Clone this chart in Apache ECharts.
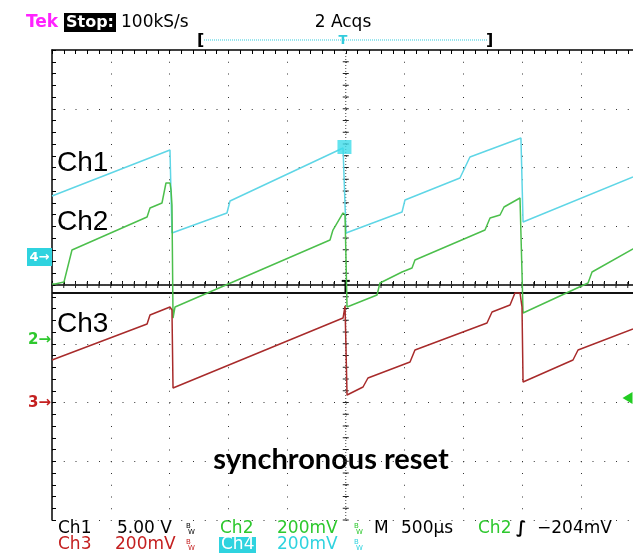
<!DOCTYPE html>
<html><head><meta charset="utf-8">
<script src="https://cdn.jsdelivr.net/npm/echarts@6/dist/echarts.min.js"></script>
<style>html,body{margin:0;padding:0;background:#fff}#c{width:633px;height:553px}</style>
</head><body><div id="c"></div>
<script>
// Horizontal: time in microseconds (500 µs/div, 10 divisions). Vertical: screen divisions (8 divisions).
const timeMin = 0, timeMax = 5000, timeStep = 500;
const divMin = -4, divMax = 4, divStep = 1;

// Ch1 (cyan)
const ch1Time = [0, 1004, 1017, 1021, 1489, 1515, 2477, 2489, 2502, 2979, 3004, 3472, 3557, 3991, 4000, 4009, 4945, 5000];
const ch1Div  = [1.515, 2.298, 2.30, 0.885, 1.226, 1.430, 2.332, 2.349, 0.885, 1.243, 1.447, 1.821, 2.179, 2.502, 2.502, 1.072, 1.838, 1.884];
// Ch2 (green)
const ch2Time = [0, 26, 102, 170, 809, 834, 936, 970, 1004, 1013, 1021, 1030, 1047, 2366, 2391, 2477, 2494, 2511, 2766, 2791, 2979, 3064, 3089, 3685, 3728, 3813, 3847, 3983, 3991, 4009, 4562, 4596, 4945, 5000];
const ch2Div  = [0.017, 0.017, 0.051, 0.596, 1.157, 1.311, 1.396, 1.736, 1.736, 1.617, 1.362, -0.562, -0.374, 0.766, 0.936, 1.226, 1.191, -0.374, -0.170, 0.034, 0.221, 0.289, 0.426, 0.936, 1.140, 1.191, 1.328, 1.481, 1.481, -0.477, 0.034, 0.221, 0.613, 0.674];
// Ch3 (red)
const ch3Time = [0, 809, 834, 1004, 1021, 1030, 2477, 2494, 2511, 2647, 2689, 3047, 3089, 3702, 3745, 3898, 3940, 3983, 4000, 4009, 4434, 4477, 4945, 5000];
const ch3Div  = [-1.277, -0.664, -0.511, -0.374, -0.426, -1.753, -0.562, -0.357, -1.872, -1.736, -1.583, -1.311, -1.106, -0.647, -0.460, -0.340, -0.136, -0.136, -0.374, -1.651, -1.277, -1.106, -0.749, -0.706];
// flat black reference trace
const refTime = [0, 5000];
const refDiv  = [-0.136, -0.136];

// channel ground markers on the left edge
const markerNames  = ['4', '2', '3'];
const markerLevels = [0.477, -0.919, -1.991];
// trigger
const triggerTime = 2500;
const triggerLevel = -1.923;
const triggerMarkTop = 0.07;
const boxMarker = [2489, 2.349];

const zip = (t, v) => t.map((x, i) => [x, v[i]]);
const markerColors = {'4': '#2fd3df', '2': '#2ec82e', '3': '#c42020'};
const FONT = '"DejaVu Sans", sans-serif';

const chart = echarts.init(document.getElementById('c'));

function graticule(params, api) {
  const ch = [];
  const minorT = timeStep / 5, minorD = divStep / 5;
  const a = api.coord([timeMin, 0]), b = api.coord([timeMax, 0]);
  ch.push({type: 'line', shape: {x1: a[0], y1: a[1], x2: b[0], y2: b[1]}, style: {stroke: '#444', lineWidth: 1, lineDash: [1, 2]}});
  const nT = Math.round((timeMax - timeMin) / minorT);
  for (let i = 0; i <= nT; i++) {
    const p = api.coord([timeMin + i * minorT, 0]);
    ch.push({type: 'line', shape: {x1: p[0], y1: p[1] - 3, x2: p[0], y2: p[1] + 3}, style: {stroke: '#222', lineWidth: 1}});
  }
  const c = api.coord([triggerTime, divMax]), d = api.coord([triggerTime, divMin]);
  ch.push({type: 'line', shape: {x1: c[0], y1: c[1], x2: d[0], y2: d[1]}, style: {stroke: '#444', lineWidth: 1, lineDash: [1, 2]}});
  const nD = Math.round((divMax - divMin) / minorD);
  for (let i = 0; i <= nD; i++) {
    const p = api.coord([triggerTime, divMin + i * minorD]);
    ch.push({type: 'line', shape: {x1: p[0] - 3, y1: p[1], x2: p[0] + 3, y2: p[1]}, style: {stroke: '#222', lineWidth: 1}});
  }
  // trigger position marker "T"
  const tt = api.coord([triggerTime, triggerMarkTop]), tb = api.coord([triggerTime, refDiv[0]]);
  ch.push({type: 'line', shape: {x1: tt[0] - 4, y1: tt[1], x2: tt[0] + 4, y2: tt[1]}, style: {stroke: '#000', lineWidth: 2}});
  ch.push({type: 'line', shape: {x1: tt[0], y1: tt[1], x2: tb[0], y2: tb[1]}, style: {stroke: '#000', lineWidth: 2.5}});
  return {type: 'group', children: ch};
}

function markers(params, api) {
  const ch = [];
  markerNames.forEach((n, i) => {
    const p = api.coord([timeMin, markerLevels[i]]);
    if (n === '4') {
      ch.push({type: 'rect', shape: {x: p[0] - 25, y: p[1] - 9, width: 25, height: 18}, style: {fill: markerColors[n]}});
      ch.push({type: 'text', style: {x: p[0] - 12.5, y: p[1] + 1, text: n + '→', fill: '#fff', font: 'bold 13px ' + FONT, align: 'center', verticalAlign: 'middle'}});
    } else {
      ch.push({type: 'text', style: {x: p[0] - 1, y: p[1] + 1, text: n + '→', fill: markerColors[n], font: 'bold 15px ' + FONT, align: 'right', verticalAlign: 'middle'}});
    }
  });
  const q = api.coord([timeMax, triggerLevel]);
  ch.push({type: 'polygon', shape: {points: [[q[0] - 17, q[1]], [q[0] - 7, q[1] - 6], [q[0] - 7, q[1] + 6]]}, style: {fill: '#22cc22'}});
  return {type: 'group', children: ch};
}

const axisCommon = {
  type: 'value', min: timeMin, max: timeMax, interval: timeStep,
  axisLine: {show: true, lineStyle: {color: '#000', width: 1.5}},
  axisTick: {show: true, inside: true, length: 4, lineStyle: {color: '#000'}},
  minorTick: {show: true, splitNumber: 5, length: 4, lineStyle: {color: '#000'}},
  axisLabel: {show: false}
};

const txt = (x, y, text, fill, size, extra) => Object.assign({type: 'text', x: x, y: y, style: {text: text, fill: fill, font: (size || '17px') + ' ' + FONT, verticalAlign: 'middle'}}, extra || {});
const r1 = 529, r2 = 545;

chart.setOption({
  animation: false,
  backgroundColor: '#fff',
  grid: {left: 52, top: 50, width: 587.5, height: 470, outerBoundsMode: 'none', containLabel: false},
  xAxis: [
    Object.assign({}, axisCommon, {position: 'bottom', splitLine: {show: true, lineStyle: {color: '#333', width: 1, type: [1, 10.75]}}}),
    Object.assign({}, axisCommon, {position: 'top', splitLine: {show: false}})
  ],
  yAxis: {
    type: 'value', min: divMin, max: divMax, interval: divStep,
    axisLine: {show: true, lineStyle: {color: '#000', width: 1.5}},
    axisTick: {show: true, inside: true, length: 4, lineStyle: {color: '#000'}},
    minorTick: {show: true, splitNumber: 5, length: 4, lineStyle: {color: '#000'}},
    axisLabel: {show: false},
    splitLine: {show: true, lineStyle: {color: '#333', width: 1, type: [1, 10.75]}}
  },
  series: [
    {type: 'custom', renderItem: graticule, data: [[0]], silent: true, z: 1},
    {type: 'line', data: zip(refTime, refDiv), showSymbol: false, lineStyle: {color: '#111', width: 2}, z: 2},
    {type: 'line', data: zip(ch1Time, ch1Div), showSymbol: false, lineStyle: {color: '#5fd6e6', width: 1.5}, z: 3},
    {type: 'line', data: zip(ch2Time, ch2Div), showSymbol: false, lineStyle: {color: '#4cbf4c', width: 1.5}, z: 4},
    {type: 'line', data: zip(ch3Time, ch3Div), showSymbol: false, lineStyle: {color: '#a82b2b', width: 1.5}, z: 5},
    {type: 'scatter', data: [boxMarker], symbol: 'rect', symbolSize: 14, itemStyle: {color: '#3ddcea'}, z: 6},
    {type: 'custom', renderItem: markers, data: [[0]], silent: true, clip: false, z: 7}
  ],
  graphic: [
    // header
    txt(26, 23, 'Tek', '#ff22ff', 'bold 17px'),
    {type: 'rect', shape: {x: 64, y: 13, width: 52, height: 19}, style: {fill: '#000'}},
    txt(66, 23, 'Stop:', '#fff', 'bold 16px'),
    txt(121, 23, '100kS/s', '#000'),
    {type: 'text', x: 343, y: 23, style: {text: '2 Acqs', fill: '#000', font: '17px ' + FONT, verticalAlign: 'middle', align: 'center'}},
    txt(197, 41, '[', '#000', 'bold 16px'),
    {type: 'line', shape: {x1: 204, y1: 40, x2: 487, y2: 40}, style: {stroke: '#33ccdd', lineWidth: 1, lineDash: [1, 1]}},
    {type: 'text', x: 343, y: 41, style: {text: 'T', fill: '#33ccdd', font: 'bold 13px ' + FONT, align: 'center', verticalAlign: 'middle'}},
    txt(486, 41, ']', '#000', 'bold 16px'),
    // channel annotations
    {type: 'text', x: 57, y: 163, style: {text: 'Ch1', fill: '#000', font: '28px "Liberation Sans", Arial, sans-serif', verticalAlign: 'middle'}},
    {type: 'text', x: 57, y: 222, style: {text: 'Ch2', fill: '#000', font: '28px "Liberation Sans", Arial, sans-serif', verticalAlign: 'middle'}},
    {type: 'text', x: 57, y: 324, style: {text: 'Ch3', fill: '#000', font: '28px "Liberation Sans", Arial, sans-serif', verticalAlign: 'middle'}},
    {type: 'text', x: 331, y: 460, style: {text: 'synchronous reset', fill: '#000', font: 'bold 29px Lato, sans-serif', align: 'center', verticalAlign: 'middle'}},
    // status row 1
    txt(58, r1, 'Ch1', '#000'),
    txt(117, r1, '5.00 V', '#000'),
    txt(186, r1 - 3, 'B', '#000', '7px'), txt(188, r1 + 3, 'W', '#000', '7px'),
    txt(220, r1, 'Ch2', '#2ec82e'),
    txt(277, r1, '200mV', '#2ec82e'),
    txt(354, r1 - 3, 'B', '#2ec82e', '7px'), txt(356, r1 + 3, 'W', '#2ec82e', '7px'),
    txt(374, r1, 'M', '#000'),
    txt(401, r1, '500µs', '#000'),
    txt(478, r1, 'Ch2', '#2ec82e'),
    txt(516, r1, '∫', '#000', 'bold 17px'),
    txt(537, r1, '−204mV', '#000'),
    // status row 2
    txt(58, r2, 'Ch3', '#c42020'),
    txt(115, r2, '200mV', '#c42020'),
    txt(186, r2 - 3, 'B', '#c42020', '7px'), txt(188, r2 + 3, 'W', '#c42020', '7px'),
    {type: 'rect', shape: {x: 219, y: r2 - 8, width: 37, height: 17}, style: {fill: '#2fd3df'}},
    txt(221, r2, 'Ch4', '#fff'),
    txt(277, r2, '200mV', '#2fd3df'),
    txt(354, r2 - 3, 'B', '#2fd3df', '7px'), txt(356, r2 + 3, 'W', '#2fd3df', '7px')
  ]
});
</script>
</body></html>
